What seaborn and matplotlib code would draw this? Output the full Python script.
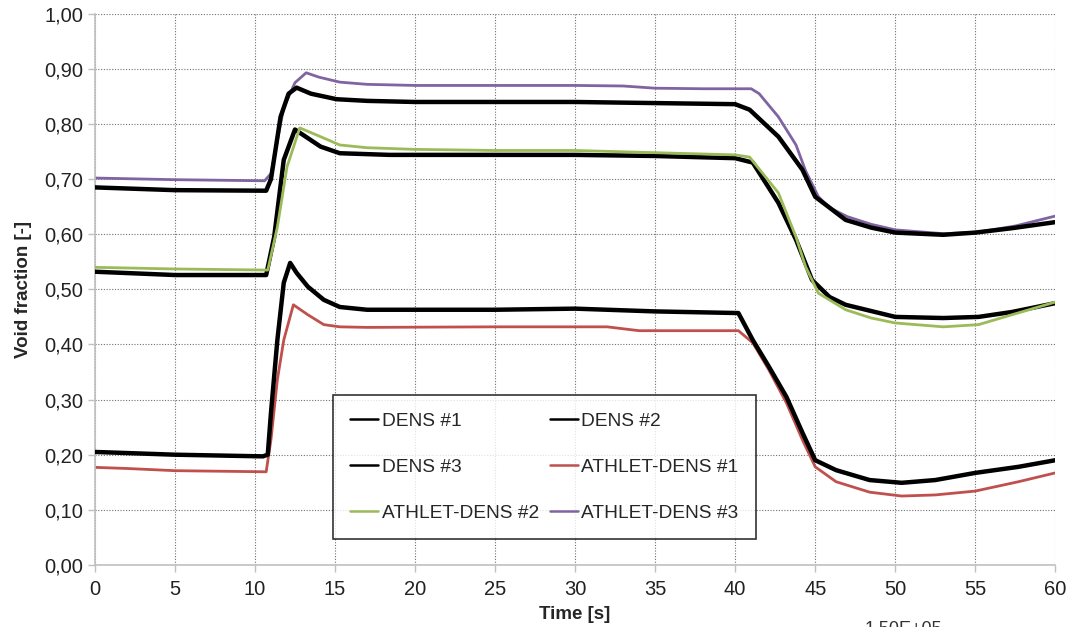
import matplotlib
matplotlib.use("Agg")
import matplotlib.pyplot as plt
import matplotlib.ticker as mticker
from matplotlib.lines import Line2D
import seaborn as sns
import pandas as pd

# ---------------- data ----------------
t_dens1 = [0, 5, 10.5, 10.8, 11.0, 11.4, 11.8, 12.2, 12.6, 13.3, 14.3, 15.3, 17, 25, 30, 35,
           40.2, 41.1, 42.1, 43.2, 44.2, 45.0, 46.3, 48.4, 50.4, 52.5, 55, 57.7, 60]
v_dens1 = [0.205, 0.200, 0.197, 0.200, 0.276, 0.408, 0.512, 0.548, 0.530, 0.505, 0.481, 0.468, 0.463,
           0.463, 0.465, 0.460, 0.457, 0.408, 0.360, 0.305, 0.240, 0.190, 0.172, 0.154, 0.149, 0.154,
           0.167, 0.178, 0.190]

t_dens2 = [0, 5, 10.7, 11.2, 11.8, 12.5, 14.1, 15.3, 18.4, 25, 30, 35, 40, 41.1, 42.7, 43.8, 44.8,
           45.9, 46.9, 50, 53, 55.2, 57.3, 60]
v_dens2 = [0.532, 0.526, 0.526, 0.595, 0.735, 0.790, 0.759, 0.747, 0.744, 0.744, 0.744, 0.742, 0.738,
           0.730, 0.657, 0.590, 0.517, 0.486, 0.472, 0.450, 0.448, 0.450, 0.459, 0.475]

t_dens3 = [0, 5, 10.7, 11.0, 11.6, 12.1, 12.6, 13.5, 15.1, 17, 20, 25, 30, 35, 40, 40.9, 42.7, 44.2,
           45.0, 46.9, 48.5, 50, 53, 55, 57.3, 60]
v_dens3 = [0.685, 0.680, 0.679, 0.700, 0.813, 0.855, 0.866, 0.855, 0.845, 0.842, 0.840, 0.840, 0.840,
           0.838, 0.836, 0.826, 0.777, 0.717, 0.668, 0.626, 0.612, 0.603, 0.599, 0.603, 0.611, 0.622]

t_ath1 = [0, 2, 5, 10.7, 11.0, 11.4, 11.8, 12.4, 13.3, 14.3, 15.3, 17, 25, 32, 34, 40.2, 41.1, 42.1,
          43.2, 44.2, 45.0, 46.3, 48.4, 50.4, 52.5, 55, 57.7, 60]
v_ath1 = [0.177, 0.175, 0.171, 0.169, 0.227, 0.336, 0.408, 0.472, 0.454, 0.436, 0.432, 0.431, 0.432,
          0.432, 0.425, 0.425, 0.403, 0.354, 0.294, 0.227, 0.178, 0.151, 0.132, 0.125, 0.127, 0.134,
          0.151, 0.167]

t_ath2 = [0, 5, 10.8, 11.4, 12.0, 12.8, 14.1, 15.3, 17, 20, 25, 30, 35, 40, 40.9, 42.7, 43.8, 44.4,
          45.2, 46.9, 48.5, 50, 53, 55.2, 57.3, 60]
v_ath2 = [0.540, 0.537, 0.535, 0.613, 0.722, 0.793, 0.777, 0.762, 0.757, 0.754, 0.752, 0.752, 0.748,
          0.744, 0.740, 0.675, 0.595, 0.541, 0.493, 0.463, 0.448, 0.439, 0.432, 0.436, 0.454, 0.477]

t_ath3 = [0, 5, 10.6, 11.0, 11.8, 12.5, 13.2, 14, 15.3, 17, 20, 25, 30, 33, 35, 38, 41, 41.5, 42.7,
          43.8, 44.4, 45.2, 45.9, 47, 48.5, 50, 53, 55.2, 57.5, 60]
v_ath3 = [0.702, 0.699, 0.697, 0.710, 0.830, 0.875, 0.893, 0.885, 0.876, 0.872, 0.870, 0.870, 0.870,
          0.869, 0.865, 0.864, 0.864, 0.855, 0.813, 0.762, 0.715, 0.668, 0.648, 0.632, 0.618, 0.608,
          0.601, 0.604, 0.615, 0.633]

series_names = ["DENS #1", "DENS #2", "DENS #3", "ATHLET-DENS #1", "ATHLET-DENS #2", "ATHLET-DENS #3"]
x_ticks = list(range(0, 61, 5))
y_ticks = [i / 10 for i in range(0, 11)]

# ---------------- styling ----------------
sns.set_theme(style="white")
plt.rcParams["font.family"] = ["Liberation Sans", "DejaVu Sans"]

fig = plt.figure(figsize=(10.66, 6.27), dpi=100)
ax = fig.add_axes([0.089, 0.099, 0.901, 0.879])

series = [
    (t_dens1, v_dens1, "black", 3.2),
    (t_dens2, v_dens2, "black", 3.2),
    (t_dens3, v_dens3, "black", 3.2),
    (t_ath1, v_ath1, "#C0504D", 2.0),
    (t_ath2, v_ath2, "#9BBB59", 2.0),
    (t_ath3, v_ath3, "#8064A2", 2.0),
]

zorders = [3, 3, 3, 2, 4, 2]
for (t, v, c, lw), name, z in zip(series, series_names, zorders):
    df = pd.DataFrame({"t": t, "v": v})
    sns.lineplot(data=df, x="t", y="v", ax=ax, color=c, linewidth=lw, sort=False,
                 estimator=None, label=name, zorder=z)

ax.set_xlim(0, 60)
ax.set_ylim(0, 1.0)
ax.set_xticks(x_ticks)
ax.set_yticks(y_ticks)
ax.yaxis.set_major_formatter(mticker.FuncFormatter(lambda y, p: f"{y:.2f}".replace(".", ",")))
ax.xaxis.set_major_formatter(mticker.FuncFormatter(lambda x, p: f"{int(x)}"))

ax.grid(True, color="#707070", linestyle=(0, (1, 1.5)), linewidth=0.8)
for s in ["top", "right"]:
    ax.spines[s].set_visible(False)
for s in ["left", "bottom"]:
    ax.spines[s].set_color("#C0C0C0")
    ax.spines[s].set_linewidth(1.2)
ax.tick_params(axis="both", which="major", length=5, width=1, color="#C0C0C0",
               labelsize=14.5, labelcolor="#222222", direction="out", bottom=True, left=True)
ax.tick_params(axis="x", pad=6)

ax.set_xlabel("Time [s]", fontsize=13.5, fontweight="bold", labelpad=5)
ax.set_ylabel("Void fraction [-]", fontsize=13.5, fontweight="bold", labelpad=9)

# legend (row-wise order like the reference)
handles, labels = ax.get_legend_handles_labels()
hmap = dict(zip(labels, handles))
order = ["DENS #1", "DENS #3", "ATHLET-DENS #2", "DENS #2", "ATHLET-DENS #1", "ATHLET-DENS #3"]
leg_handles = [Line2D([], [], color=hmap[n].get_color(), linewidth=1.8) for n in order]
leg = ax.legend(leg_handles, order, ncol=2, loc="upper left", bbox_to_anchor=(0.248, 0.3085),
                fontsize=13.8, frameon=True, fancybox=False, edgecolor="black",
                handlelength=1.45, handletextpad=0.2, labelspacing=1.5, columnspacing=0.55,
                borderpad=0.9, borderaxespad=0.0)
leg.get_frame().set_linewidth(1.2)
leg.get_frame().set_facecolor("white")
leg.set_zorder(10)

fig.text(0.811, 0.010, "1.50E+05", fontsize=13, color="#333333", va="top", ha="left")

fig.savefig("out.png", dpi=100)
